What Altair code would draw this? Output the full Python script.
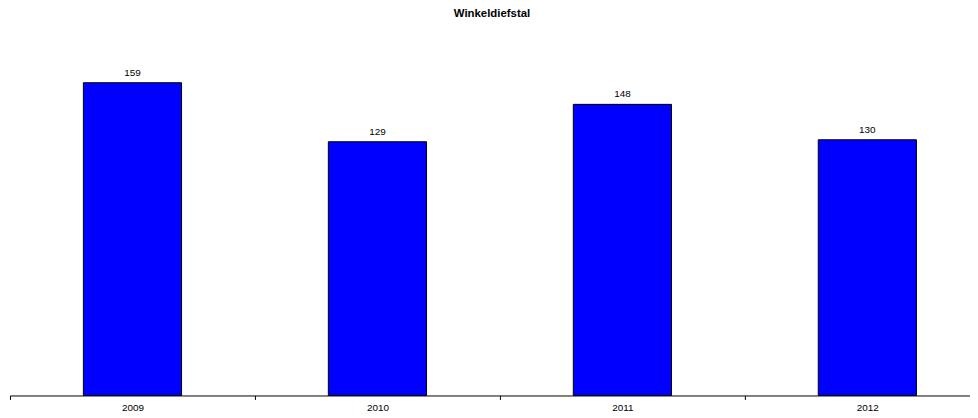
import altair as alt
import pandas as pd

years = ["2009", "2010", "2011", "2012"]
values = [159, 129, 148, 130]

df = pd.DataFrame({"year": years, "value": values})

x = alt.X("year:N", sort=years, title=None,
          scale=alt.Scale(range=[0, 988], paddingInner=0, paddingOuter=0),
          axis=alt.Axis(labelAngle=0, tickBand="extent", domainColor="black",
                        tickColor="black", tickSize=4, labelFontSize=10,
                        labelColor="black", labelFont="Liberation Sans",
                        labelPadding=3, grid=False))
y = alt.Y("value:Q", scale=alt.Scale(domain=[0, 180]), axis=None)

bars = alt.Chart(df).mark_bar(color="#0000FF", stroke="black", strokeWidth=1, width=99).encode(x=x, y=y)
labels = alt.Chart(df).mark_text(dy=-10, fontSize=10, font="Liberation Sans", color="black").encode(
    x=x, y=y, text="value:Q")

chart = (bars + labels).properties(
    width=968, height=357,
    title=alt.TitleParams("Winkeldiefstal", fontSize=11.5, font="Liberation Sans",
                          fontWeight="bold", color="black", offset=22, dx=2),
    autosize=alt.AutoSizeParams(type="none"),
    padding={"left": 2, "top": 32, "right": 0, "bottom": 21},
).configure_view(stroke=None)

chart.save("out.html", embed_options={"renderer": "svg", "actions": False})
